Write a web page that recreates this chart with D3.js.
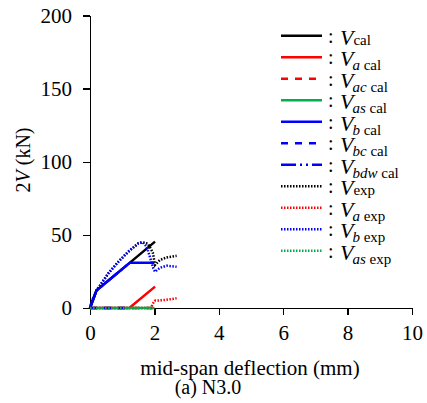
<!DOCTYPE html>
<html lang="en">
<head>
	<meta charset="UTF-8">
	<title>N3.0 shear vs deflection</title>
	<style>
		body { margin: 0; background: #fff; }
		.f-svg { background-color: #fff; }
		.Axis path,
		.Axis line {
			stroke: #000;
			stroke-width: 1.3;
			shape-rendering: crispEdges;
		}
		.Axis text {
			font-family: "Liberation Serif", "Times New Roman", serif;
			font-size: 21px;
			fill: #000;
		}
		.lbl {
			font-family: "Liberation Serif", "Times New Roman", serif;
			font-size: 20px;
			fill: #000;
		}
	</style>
	<script src="https://d3js.org/d3.v7.min.js"></script>
</head>
<body>
	<script type="text/javascript">

		// tick labels
		var xTicks = [0, 2, 4, 6, 8, 10];
		var yTicks = [0, 50, 100, 150, 200];

		// series: [deflection mm, 2V kN]
		var vCal   = [[0, 0], [0.2, 12], [1.24, 31], [2.02, 45.4]];
		var vaCal  = [[0, 0], [1.22, 0], [2.02, 14.6]];
		var vacCal = [[0, 0], [2.0, 0]];
		var vasCal = [[0, 0], [2.0, 0]];
		var vbCal  = [[0, 0], [0.2, 12], [1.24, 31], [2.0, 31]];
		var vbcCal = [[0, 0], [1.24, 0]];
		var vbdwCal = [[0, 0], [0.2, 12], [1.24, 31]];
		var vExp   = [[0, 0], [0.05, 4], [0.21, 12.3], [0.57, 23.7], [0.88, 31.6], [1.19, 38.5],
		              [1.5, 44.2], [1.63, 45], [1.8, 44], [1.95, 38], [2.02, 29.4], [2.17, 32.8],
		              [2.38, 34.6], [2.69, 35.7]];
		var vaExp  = [[0, 0], [1.9, 0], [1.94, 2.7], [2.02, 5], [2.33, 5.5], [2.69, 6.6]];
		var vbExp  = [[0, 0], [0.05, 4], [0.21, 12.3], [0.57, 23.7], [0.88, 31.6], [1.19, 38.5],
		              [1.5, 44.2], [1.63, 45], [1.76, 41.9], [1.86, 35], [1.97, 27], [2.02, 24.8],
		              [2.17, 27.5], [2.38, 28.9], [2.69, 28.2]];
		var vasExp = [[0, 0], [1.9, 0]];

		// legend order (later drawn on top)
		var series = [
			{data: vCal,    color: "#000",    dash: null,              sub: "",    tag: "cal"},
			{data: vaCal,   color: "#ff0000", dash: null,              sub: "a",   tag: "cal"},
			{data: vacCal,  color: "#ff0000", dash: "7,7",             sub: "ac",  tag: "cal"},
			{data: vasCal,  color: "#00b050", dash: null,              sub: "as",  tag: "cal"},
			{data: vbCal,   color: "#0000ff", dash: null,              sub: "b",   tag: "cal"},
			{data: vbcCal,  color: "#0000ff", dash: "7,7",             sub: "bc",  tag: "cal"},
			{data: vbdwCal, color: "#0000ff", dash: "15,4,2,4,2,4",    sub: "bdw", tag: "cal"},
			{data: vExp,    color: "#000",    dash: "1.5,1.5",         sub: "",    tag: "exp"},
			{data: vaExp,   color: "#ff0000", dash: "1.5,1.5",         sub: "a",   tag: "exp"},
			{data: vbExp,   color: "#0000ff", dash: "1.5,1.5",         sub: "b",   tag: "exp"},
			{data: vasExp,  color: "#00b050", dash: "1.5,1.5",         sub: "as",  tag: "exp"}
		];

		const w = 427,
			  h = 403;

		const svg = d3.select("body")
			        .append("svg")
			        .attr("width", w)
			        .attr("height", h)
			        .attr("class", "f-svg");

		var xScale = d3.scaleLinear()
					   .domain([0, 10])
					   .range([90, 412]);

		var yScale = d3.scaleLinear()
					   .domain([0, 200])
					   .range([308, 15.5]);

		// axes
		svg.append("g")
		   .attr("class", "Axis")
		   .attr("transform", "translate(0,308)")
		   .call(d3.axisBottom(xScale).tickValues(xTicks).tickSize(7).tickSizeOuter(0).tickPadding(10));

		svg.append("g")
		   .attr("class", "Axis")
		   .attr("transform", "translate(90,0)")
		   .call(d3.axisLeft(yScale).tickValues(yTicks).tickSize(7).tickSizeOuter(0).tickPadding(11));

		svg.selectAll(".Axis").attr("font-family", null).attr("font-size", null);
		svg.selectAll(".Axis text")
		   .style("font-family", "'Liberation Serif', 'Times New Roman', serif")
		   .style("font-size", "21px");

		// curves
		var line = d3.line()
					 .x((d) => xScale(d[0]))
					 .y((d) => yScale(d[1]));

		svg.append("g").selectAll("path")
		   .data(series).enter()
		   .append("path")
		   .attr("d", (d) => line(d.data))
		   .attr("fill", "none")
		   .attr("stroke", (d) => d.color)
		   .attr("stroke-width", 2.5)
		   .attr("stroke-dasharray", (d) => d.dash);

		// axis titles
		var yl = svg.append("text")
		   .attr("class", "lbl")
		   .attr("transform", "translate(30,160) rotate(-90)")
		   .attr("text-anchor", "middle");
		yl.append("tspan").text("2");
		yl.append("tspan").attr("font-style", "italic").text("V");
		yl.append("tspan").text(" (kN)");

		svg.append("text")
		   .attr("class", "lbl")
		   .attr("x", 250).attr("y", 375)
		   .attr("text-anchor", "middle")
		   .style("font-size", "21px")
		   .text("mid-span deflection (mm)");

		svg.append("text")
		   .attr("class", "lbl")
		   .attr("x", 208).attr("y", 394)
		   .attr("text-anchor", "middle")
		   .text("(a) N3.0");

		// legend
		var leg = svg.append("g").selectAll("g")
		   .data(series).enter()
		   .append("g")
		   .attr("transform", (d, i) => "translate(0," + (35.7 + i * 21.5) + ")");

		leg.append("line")
		   .attr("x1", 281).attr("x2", 322)
		   .attr("stroke", (d) => d.color)
		   .attr("stroke-width", 2.5)
		   .attr("stroke-dasharray", (d) => d.dash);

		leg.append("text")
		   .attr("class", "lbl")
		   .attr("x", 328).attr("y", 7)
		   .text(":");

		var lt = leg.append("text")
		   .attr("class", "lbl")
		   .attr("x", 340).attr("y", 9);
		lt.append("tspan")
		  .attr("font-style", "italic")
		  .attr("font-size", "22px")
		  .text("V");
		lt.append("tspan")
		  .attr("font-style", "italic")
		  .attr("font-size", "15px")
		  .attr("dx", (d) => d.sub ? -1 : 2)
		  .attr("dy", 4)
		  .text((d) => d.sub);
		lt.append("tspan")
		  .attr("font-size", "15px")
		  .text((d) => (d.sub ? " " : "") + d.tag);

	</script>
</body>
</html>
